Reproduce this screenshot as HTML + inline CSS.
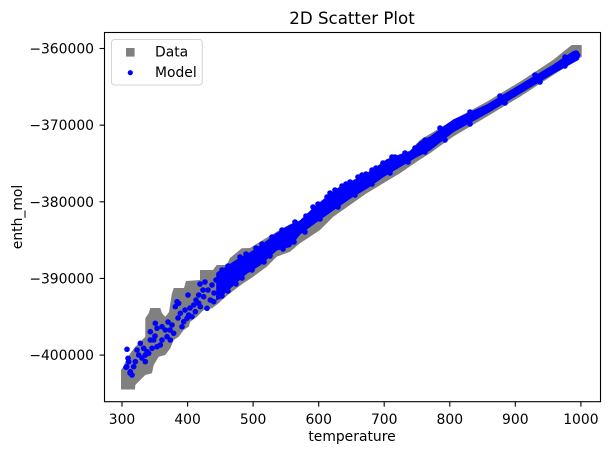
<!DOCTYPE html>
<html>
<head>
<meta charset="utf-8">
<style>
html,body{margin:0;padding:0;background:#fff;}
svg{display:block;}
text{font-family:"DejaVu Sans","Liberation Sans",sans-serif;fill:#000;}
</style>
</head>
<body>
<svg width="609" height="455" viewBox="0 0 609 455" xmlns="http://www.w3.org/2000/svg">
<rect width="609" height="455" fill="#fff"/>

<!-- Data (gray squares band) -->
<polygon fill="#808080" points="121,389.5 121,370 123.7,366 125.3,361.7 130.3,353.3 135.3,346.7 140.3,341.7 145.3,336.7 145.3,318.3 148.7,313.3 150.3,308 160.3,308 162,313.3 165.3,316.7 169,312 170.3,303.3 172,293.3 173.7,288 184,288 186,281 200,280 200,270 213,270 216.7,265 226.7,265 230,258 241.7,248.3 250,248 260,241.7 268.3,236.7 285,226.7 293.3,223.3 305,220 313,208 323,199.5 338,187.5 355,179 370,171 386.7,159 400,154 410,150.5 420,140 453,120 486.7,101.7 520,81.7 553,60 571.7,45 581.7,45 581.7,56.7 576.7,60 553.3,75 520,96.7 486.7,116.7 453,136.7 430,153.3 416.7,161.7 400,173.3 383.3,183.3 366.7,193.3 350,205 333.3,216.7 320,230 310,236.7 300,243.3 290,251.7 276.7,256.7 266.7,266.7 253.3,276.7 243.3,283.3 230,293.3 222,300 218.7,303.3 212,308.3 203.7,310 197,316.7 190.3,321.7 188.7,326.7 183.7,330 178.7,336.7 173.7,340 170.3,348.3 165.3,355 158.7,356.7 153.7,365 152,373.3 145.3,375 142,378.3 135.3,385 135,389.5"/>

<!-- Model (blue dots) -->
<polygon fill="#0000ff" stroke="#0000ff" stroke-width="1" stroke-linejoin="round" points="216.7,273 236.7,260 251.7,251.7 268.3,240 276.7,233.3 290,225 300,221 313.3,208.3 323.3,200 338.3,188.3 355,180 370,171.7 380,165 386.7,160 400,155 410,151.7 420,141.7 430,137 453.3,120 486.7,105 520,85 553.3,65 573.3,51.5 578,51.5 580,55 578.3,59.5 553.3,73.3 520,93.3 486.7,113.3 453.3,131.7 430,150 416.7,156.7 400,166.7 383.3,176.7 366.7,188.3 350,198.3 333.3,210 316.7,221.7 300,234 290,246.7 276.7,250 260,265 246.7,273.3 230,288.3 216.7,300"/>
<g fill="#0000ff">
<circle cx="127" cy="349.3" r="2.8"/><circle cx="128" cy="358.3" r="2.8"/><circle cx="128.7" cy="361.7" r="2.8"/>
<circle cx="126" cy="367.3" r="2.8"/><circle cx="130.3" cy="371.7" r="2.8"/><circle cx="133.7" cy="366.7" r="2.8"/>
<circle cx="135.3" cy="361.7" r="2.8"/><circle cx="137" cy="350" r="2.8"/><circle cx="140.3" cy="343.3" r="2.8"/>
<circle cx="138.7" cy="355" r="2.8"/><circle cx="143.7" cy="348.3" r="2.8"/><circle cx="145.3" cy="361.7" r="2.8"/>
<circle cx="147" cy="351.7" r="2.8"/><circle cx="148.7" cy="353.3" r="2.8"/><circle cx="150.3" cy="340" r="2.8"/>
<circle cx="153.7" cy="340" r="2.8"/><circle cx="155.3" cy="323.3" r="2.8"/><circle cx="150.3" cy="331.7" r="2.8"/>
<circle cx="157" cy="328.3" r="2.8"/><circle cx="162" cy="326.7" r="2.8"/><circle cx="165.3" cy="330" r="2.8"/>
<circle cx="160.3" cy="345" r="2.8"/><circle cx="162" cy="340" r="2.8"/><circle cx="167" cy="336.7" r="2.8"/>
<circle cx="170.3" cy="340" r="2.8"/><circle cx="172" cy="325" r="2.8"/><circle cx="173.7" cy="333.3" r="2.8"/>
<circle cx="175.3" cy="306.7" r="2.8"/><circle cx="178.7" cy="303.3" r="2.8"/><circle cx="180.3" cy="313.3" r="2.8"/>
<circle cx="182" cy="326.7" r="2.8"/><circle cx="183.7" cy="321.7" r="2.8"/><circle cx="187" cy="318.3" r="2.8"/>
<circle cx="188.7" cy="315" r="2.8"/><circle cx="192" cy="316.7" r="2.8"/><circle cx="195.3" cy="311.7" r="2.8"/>
<circle cx="200.3" cy="306.7" r="2.8"/><circle cx="193.7" cy="305" r="2.8"/><circle cx="188" cy="295" r="2.8"/>
<circle cx="198.7" cy="295" r="2.8"/><circle cx="198.7" cy="303.3" r="2.8"/><circle cx="203.7" cy="296.7" r="2.8"/>
<circle cx="207" cy="308.3" r="2.8"/><circle cx="210.3" cy="300" r="2.8"/><circle cx="213.7" cy="301.7" r="2.8"/>
<circle cx="218.7" cy="296.7" r="2.8"/><circle cx="177" cy="301.7" r="2.8"/><circle cx="145.3" cy="355" r="2.8"/>
<circle cx="152" cy="348.3" r="2.8"/><circle cx="157" cy="346.7" r="2.8"/><circle cx="126.7" cy="366.7" r="2.8"/>
<circle cx="130" cy="373" r="2.8"/><circle cx="132" cy="375" r="2.8"/><circle cx="142" cy="358" r="2.8"/>
<circle cx="155" cy="336" r="2.8"/><circle cx="168" cy="322" r="2.8"/><circle cx="185" cy="310" r="2.8"/>
<circle cx="205" cy="282" r="2.8"/><circle cx="208" cy="290" r="2.8"/><circle cx="212" cy="285" r="2.8"/>
<circle cx="214" cy="293" r="2.8"/><circle cx="203" cy="290" r="2.8"/><circle cx="216" cy="280" r="2.8"/>
<circle cx="200" cy="284" r="2.8"/><circle cx="196" cy="300" r="2.8"/><circle cx="190" cy="308" r="2.8"/>
<circle cx="178" cy="318" r="2.8"/><circle cx="170" cy="330" r="2.8"/>
<circle cx="313" cy="207" r="2.8"/><circle cx="330" cy="193" r="2.8"/><circle cx="346" cy="184" r="2.8"/>
<circle cx="362" cy="175" r="2.8"/><circle cx="376" cy="168" r="2.8"/><circle cx="392" cy="157" r="2.8"/>
<circle cx="405" cy="153" r="2.8"/><circle cx="440" cy="128" r="2.8"/><circle cx="470" cy="112" r="2.8"/>
<circle cx="500" cy="96" r="2.8"/><circle cx="535" cy="75" r="2.8"/><circle cx="565" cy="57" r="2.8"/>
<circle cx="576" cy="53" r="2.8"/>
<!-- extra edge texture -->
<circle cx="222" cy="270" r="2.8"/><circle cx="228" cy="266" r="2.8"/><circle cx="240" cy="257" r="2.8"/>
<circle cx="246" cy="254" r="2.8"/><circle cx="256" cy="248" r="2.8"/><circle cx="262" cy="244" r="2.8"/>
<circle cx="272" cy="237" r="2.8"/><circle cx="282" cy="230" r="2.8"/><circle cx="295" cy="222" r="2.8"/>
<circle cx="306" cy="216" r="2.8"/><circle cx="318" cy="204" r="2.8"/><circle cx="327" cy="197" r="2.8"/>
<circle cx="335" cy="190" r="2.8"/><circle cx="342" cy="186" r="2.8"/><circle cx="350" cy="182" r="2.8"/>
<circle cx="358" cy="177" r="2.8"/><circle cx="366" cy="174" r="2.8"/><circle cx="372" cy="170" r="2.8"/>
<circle cx="383" cy="163" r="2.8"/><circle cx="395" cy="157" r="2.8"/><circle cx="415" cy="148" r="2.8"/>
<circle cx="425" cy="140" r="2.8"/>
<circle cx="222" cy="296" r="2.8"/><circle cx="228" cy="291" r="2.8"/><circle cx="236" cy="284" r="2.8"/>
<circle cx="242" cy="278" r="2.8"/><circle cx="252" cy="270" r="2.8"/><circle cx="264" cy="262" r="2.8"/>
<circle cx="270" cy="256" r="2.8"/><circle cx="283" cy="249" r="2.8"/><circle cx="294" cy="242" r="2.8"/>
<circle cx="305" cy="232" r="2.8"/><circle cx="320" cy="219" r="2.8"/><circle cx="338" cy="207" r="2.8"/>
<circle cx="355" cy="195" r="2.8"/><circle cx="372" cy="184" r="2.8"/><circle cx="390" cy="173" r="2.8"/>
<circle cx="408" cy="162" r="2.8"/><circle cx="425" cy="152" r="2.8"/><circle cx="445" cy="140" r="2.8"/>
<circle cx="470" cy="124" r="2.8"/><circle cx="505" cy="103" r="2.8"/><circle cx="540" cy="82" r="2.8"/>
<circle cx="565" cy="66" r="2.8"/>
</g>

<!-- Axes frame -->
<rect x="104.5" y="32.5" width="496" height="369.2" fill="none" stroke="#000" stroke-width="1.1"/>

<!-- Y ticks -->
<g stroke="#000" stroke-width="1.1">
<line x1="99.6" y1="48.5" x2="104.5" y2="48.5"/>
<line x1="99.6" y1="125.15" x2="104.5" y2="125.15"/>
<line x1="99.6" y1="201.8" x2="104.5" y2="201.8"/>
<line x1="99.6" y1="278.45" x2="104.5" y2="278.45"/>
<line x1="99.6" y1="355.1" x2="104.5" y2="355.1"/>
</g>
<g font-size="13.9" text-anchor="end">
<text x="94" y="53.5">−360000</text>
<text x="94" y="130.15">−370000</text>
<text x="94" y="206.8">−380000</text>
<text x="94" y="283.45">−390000</text>
<text x="94" y="360.1">−400000</text>
</g>

<!-- X ticks -->
<g stroke="#000" stroke-width="1.1">
<line x1="122" y1="401.7" x2="122" y2="406.6"/>
<line x1="187.6" y1="401.7" x2="187.6" y2="406.6"/>
<line x1="253.1" y1="401.7" x2="253.1" y2="406.6"/>
<line x1="318.7" y1="401.7" x2="318.7" y2="406.6"/>
<line x1="384.2" y1="401.7" x2="384.2" y2="406.6"/>
<line x1="449.8" y1="401.7" x2="449.8" y2="406.6"/>
<line x1="515.3" y1="401.7" x2="515.3" y2="406.6"/>
<line x1="580.9" y1="401.7" x2="580.9" y2="406.6"/>
</g>
<g font-size="13.9" text-anchor="middle">
<text x="122" y="424">300</text>
<text x="187.6" y="424">400</text>
<text x="253.1" y="424">500</text>
<text x="318.7" y="424">600</text>
<text x="384.2" y="424">700</text>
<text x="449.8" y="424">800</text>
<text x="515.3" y="424">900</text>
<text x="580.9" y="424">1000</text>
</g>

<!-- Axis labels and title -->
<text x="352" y="441" font-size="13.9" text-anchor="middle">temperature</text>
<text transform="translate(22,217) rotate(-90)" font-size="13.9" text-anchor="middle">enth_mol</text>
<text x="352" y="24" font-size="16.67" text-anchor="middle">2D Scatter Plot</text>

<!-- Legend -->
<rect x="111.5" y="39.5" width="90.8" height="45.5" rx="3" ry="3" fill="#fff" fill-opacity="0.8" stroke="#d4d4d4" stroke-width="1"/>
<rect x="126" y="48" width="8.6" height="8.6" fill="#808080"/>
<circle cx="130.3" cy="72.7" r="2.6" fill="#0000ff"/>
<text x="155" y="56.5" font-size="13.9">Data</text>
<text x="155" y="77" font-size="13.9">Model</text>
</svg>
</body>
</html>
